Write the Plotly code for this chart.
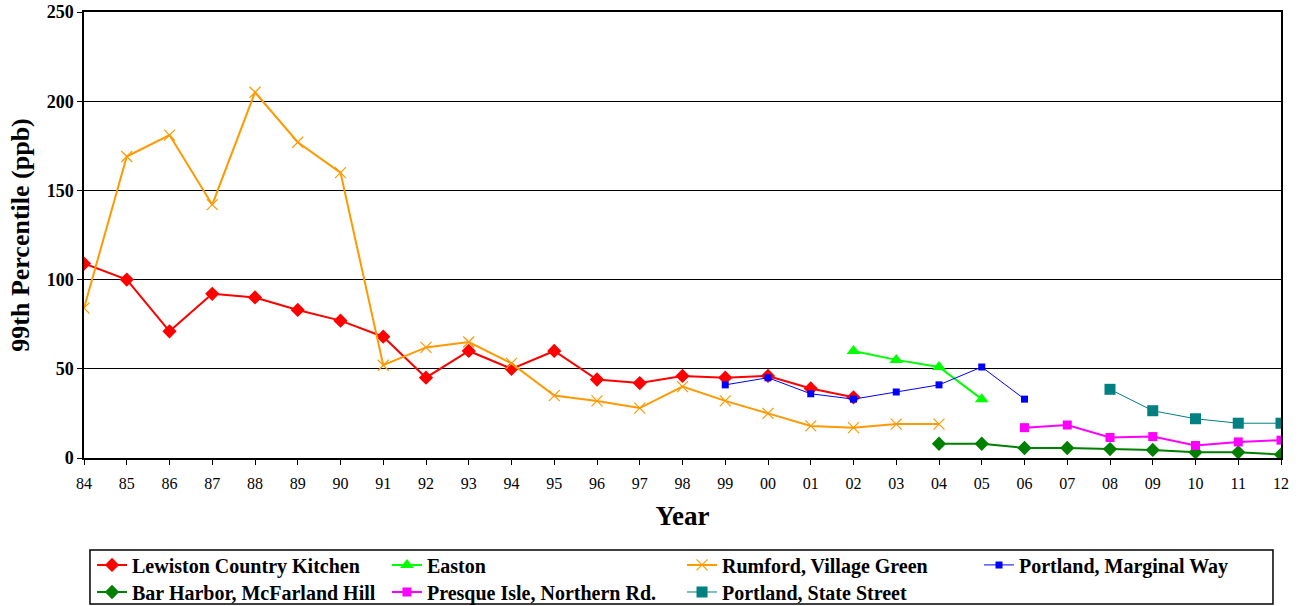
import plotly.graph_objects as go

years = ["84", "85", "86", "87", "88", "89", "90", "91", "92", "93", "94", "95", "96", "97",
         "98", "99", "00", "01", "02", "03", "04", "05", "06", "07", "08", "09", "10", "11", "12"]

lewiston_years = years[0:19]
lewiston = [109, 100, 71, 92, 90, 83, 77, 68, 45, 60, 50, 60, 44, 42, 46, 45, 46, 39, 34]

easton_years = ["02", "03", "04", "05"]
easton = [60, 55, 51, 33]

rumford_years = years[0:21]
rumford = [84, 169, 181, 142, 205, 177, 160, 52, 62, 65, 53, 35, 32, 28, 40, 32, 25, 18, 17, 19, 19]

marginal_years = ["99", "00", "01", "02", "03", "04", "05", "06"]
marginal = [41, 45, 36, 33, 37, 41, 51, 33]

barharbor_years = ["04", "05", "06", "07", "08", "09", "10", "11", "12"]
barharbor = [8, 8, 5.6, 5.6, 5, 4.5, 3.2, 3.2, 1.9]

presque_years = ["06", "07", "08", "09", "10", "11", "12"]
presque = [17, 18.5, 11.5, 12, 7, 9, 10]

state_years = ["08", "09", "10", "11", "12"]
state = [38.5, 26.5, 22, 19.5, 19.5]

FONT = "Liberation Serif"

fig = go.Figure()

def add(name, xs, ys, color, symbol, msize, lwidth, legend, mline=None):
    marker = dict(symbol=symbol, size=msize, color=color)
    if mline:
        marker["line"] = mline
    fig.add_trace(go.Scatter(
        x=xs, y=ys, name=name, mode="lines+markers",
        line=dict(color=color, width=lwidth),
        marker=marker, legend=legend,
    ))

add("Lewiston Country Kitchen", lewiston_years, lewiston, "#FF0000", "diamond", 11, 2, "legend")
add("Easton", easton_years, easton, "#00FF00", "triangle-up", 12, 2, "legend2")
add("Rumford, Village Green", rumford_years, rumford, "#FF9900", "x-thin-open", 11, 2, "legend3",
    mline=dict(color="#FF9900", width=1.2))
add("Portland, Marginal Way", marginal_years, marginal, "#0000FF", "square", 7, 1, "legend4")
add("Bar Harbor, McFarland Hill", barharbor_years, barharbor, "#008000", "diamond", 11, 2, "legend5")
add("Presque Isle, Northern Rd.", presque_years, presque, "#FF00FF", "square", 9, 2, "legend6")
add("Portland, State Street", state_years, state, "#008080", "square", 11, 1, "legend7")

legend_common = dict(
    orientation="v", yanchor="top", xanchor="left",
    font=dict(family=FONT, size=20, color="black", weight="bold"),
    bgcolor="rgba(0,0,0,0)", borderwidth=0, tracegroupgap=0, itemwidth=30,
)
col_x = [0.0067, 0.2531, 0.4996, 0.7477]
row_y = [-0.196, -0.2567]

fig.update_layout(
    width=1300, height=606,
    margin=dict(l=84, r=19, t=12, b=148, autoexpand=False),
    paper_bgcolor="white", plot_bgcolor="white",
    font=dict(family=FONT, color="black"),
    showlegend=True,
    legend=dict(x=col_x[0], y=row_y[0], **legend_common),
    legend2=dict(x=col_x[1], y=row_y[0], **legend_common),
    legend3=dict(x=col_x[2], y=row_y[0], **legend_common),
    legend4=dict(x=col_x[3], y=row_y[0], **legend_common),
    legend5=dict(x=col_x[0], y=row_y[1], **legend_common),
    legend6=dict(x=col_x[1], y=row_y[1], **legend_common),
    legend7=dict(x=col_x[2], y=row_y[1], **legend_common),
    xaxis=dict(
        type="category", categoryorder="array", categoryarray=years,
        range=[0, 28], tickvals=years, ticktext=years,
        showline=True, linecolor="black", linewidth=1.5, mirror=True,
        ticks="outside", ticklen=5, tickcolor="black", ticklabelstandoff=5,
        showgrid=False, zeroline=False,
        tickfont=dict(family=FONT, size=16, color="black"),
        title=dict(text="Year", font=dict(family=FONT, size=27, color="black", weight="bold"), standoff=15),
    ),
    yaxis=dict(
        range=[0, 250], tickvals=[0, 50, 100, 150, 200, 250],
        showline=True, linecolor="black", linewidth=1.5, mirror=True,
        ticks="outside", ticklen=5, tickcolor="black",
        showgrid=True, gridcolor="black", gridwidth=1, zeroline=False,
        tickfont=dict(family=FONT, size=18, color="black", weight="bold"),
        title=dict(text="99th Percentile (ppb)", font=dict(family=FONT, size=26, color="black", weight="bold"), standoff=10),
    ),
    shapes=[dict(
        type="rect", xref="paper", yref="paper",
        x0=0.005, x1=0.9933, y0=-0.3274, y1=-0.2063,
        line=dict(color="black", width=1.5), fillcolor="rgba(0,0,0,0)", layer="below",
    )],
)

fig.write_html(
    "out.html",
    config={"displayModeBar": False},
    post_script="document.body.style.margin='0';document.body.style.overflow='hidden';",
)
